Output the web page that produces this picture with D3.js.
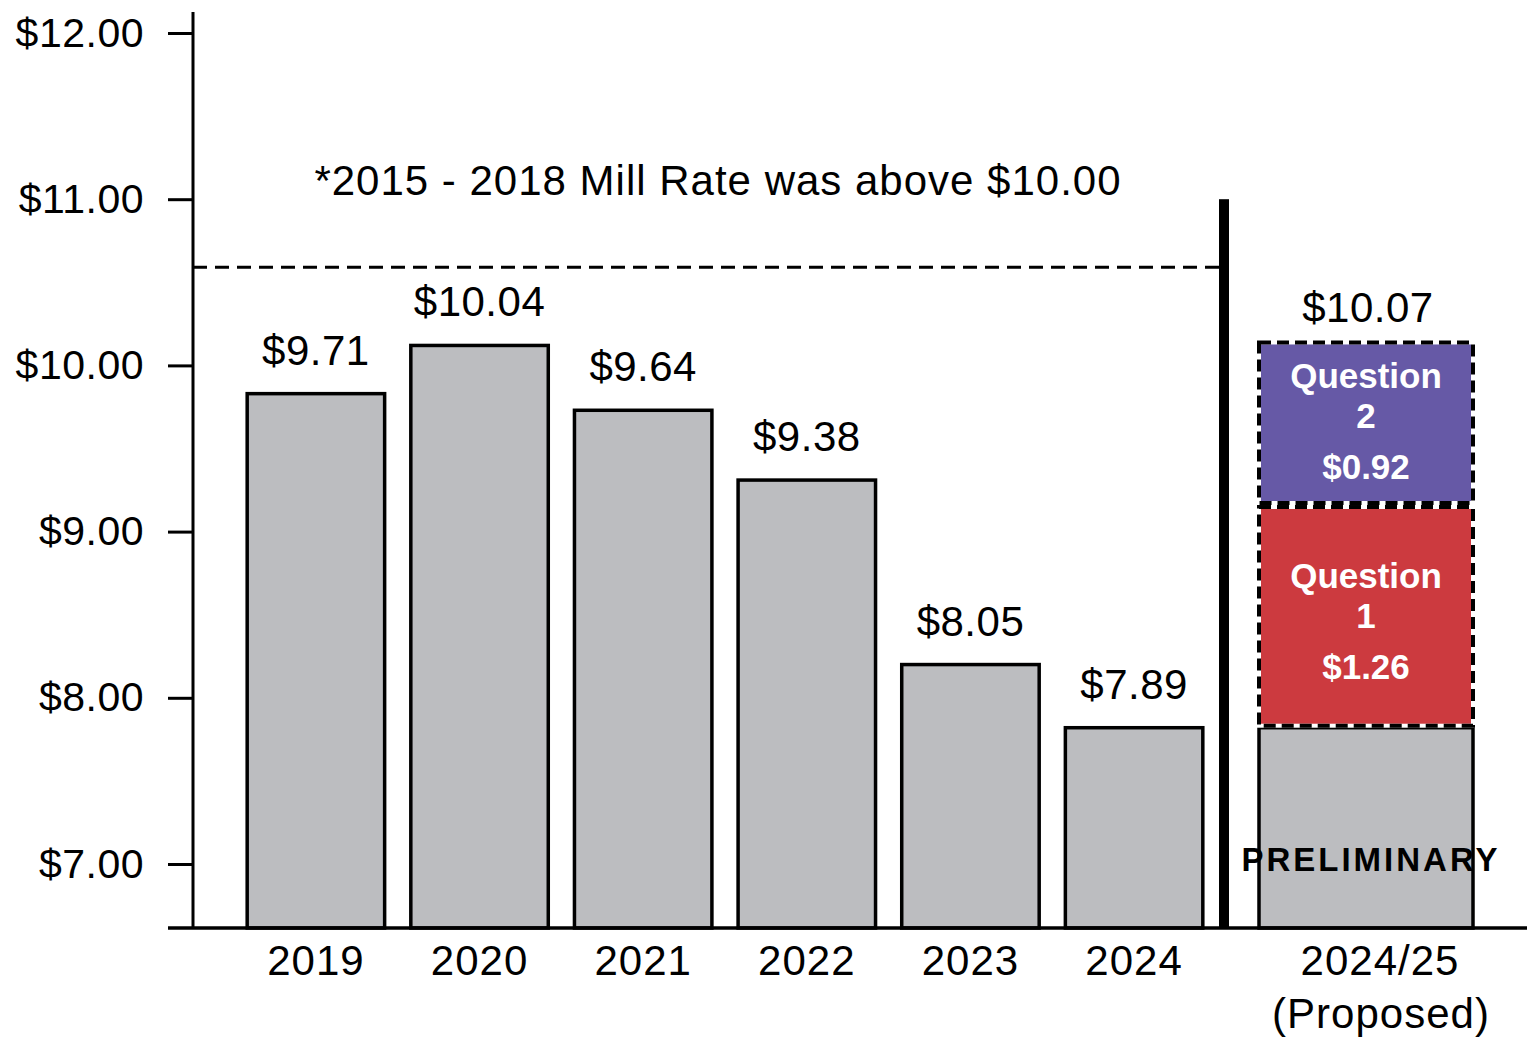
<!DOCTYPE html>
<html>
<head>
<meta charset="utf-8">
<script src="https://cdn.jsdelivr.net/npm/d3@7"></script>
<style>
  body { margin: 0; background: #fff; }
  text { font-family: "Liberation Sans", Arial, sans-serif; }
</style>
</head>
<body>
<script>
// Data
const years = ['2019', '2020', '2021', '2022', '2023', '2024']
const barHeights = [9.83, 10.12, 9.73, 9.31, 8.20, 7.82]
const barLabels = ['$9.71', '$10.04', '$9.64', '$9.38', '$8.05', '$7.89']

const proposedCategory = '2024/25'
const proposedBase = 7.82
const proposedQ1Top = 9.16
const proposedQ2Top = 10.15
const proposedLabel = '$10.07'
const questionNames = ['Question 1', 'Question 2']
const questionLabels = ['$1.26', '$0.92']

const yTicks = [7, 8, 9, 10, 11, 12]
const referenceLine = 10.59
const dividerTop = 11.0
const note = '*2015 - 2018 Mill Rate was above $10.00'

const colors = {
  bar: '#bcbdc0',
  q1: '#cc3a3f',
  q2: '#6659a6'
}

// Setup
const width = 1527
const height = 1038

const svg = d3.select('body')
  .append('svg')
  .attr('width', width)
  .attr('height', height)

const y = d3.scaleLinear().domain([7, 12]).range([864, 33])
const yBottom = y.invert(928)

const x = d3.scaleBand()
  .domain(years)
  .range([221, 1229])
  .padding(0.16)

const xProposed = d3.scaleBand()
  .domain([proposedCategory])
  .range([1259, 1473])

// Y axis
const yAxis = d3.axisLeft(y)
  .tickValues(yTicks)
  .tickSize(25)
  .tickPadding(24)
  .tickFormat(d => '$' + d3.format('.2f')(d))

const gy = svg.append('g')
  .attr('transform', 'translate(193,0)')
  .call(yAxis)
gy.select('.domain').remove()
gy.selectAll('.tick line').attr('stroke', '#000').attr('stroke-width', 3)
gy.selectAll('.tick text')
  .attr('fill', '#000')
  .style('font-size', '41px')
  .style('letter-spacing', '0.5px')
  .style('font-family', '"Liberation Sans", Arial, sans-serif')

svg.append('line')
  .attr('x1', 193).attr('x2', 193)
  .attr('y1', 12).attr('y2', 928)
  .attr('stroke', '#000').attr('stroke-width', 3)

// Reference line and note
svg.append('line')
  .attr('x1', 193).attr('x2', 1219)
  .attr('y1', y(referenceLine)).attr('y2', y(referenceLine))
  .attr('stroke', '#000')
  .attr('stroke-width', 3)
  .attr('stroke-dasharray', '14,8')

svg.append('text')
  .attr('x', 718)
  .attr('y', 195)
  .attr('text-anchor', 'middle')
  .style('font-size', '42px')
  .style('letter-spacing', '1px')
  .text(note)

// Bars
svg.append('g')
  .selectAll('rect')
  .data(years)
  .join('rect')
  .attr('x', d => x(d))
  .attr('y', (d, i) => y(barHeights[i]))
  .attr('width', x.bandwidth())
  .attr('height', (d, i) => y(yBottom) - y(barHeights[i]))
  .attr('fill', colors.bar)
  .attr('stroke', '#000')
  .attr('stroke-width', 3.5)

svg.append('g')
  .selectAll('text')
  .data(years)
  .join('text')
  .attr('x', d => x(d) + x.bandwidth() / 2)
  .attr('y', (d, i) => y(barHeights[i]) - 29)
  .attr('text-anchor', 'middle')
  .style('font-size', '42px')
  .style('letter-spacing', '0.5px')
  .text((d, i) => barLabels[i])

// Proposed stacked bar
const px = xProposed(proposedCategory)
const pw = xProposed.bandwidth()

svg.append('rect')
  .attr('x', px).attr('y', y(proposedBase))
  .attr('width', pw).attr('height', y(yBottom) - y(proposedBase))
  .attr('fill', colors.bar)
  .attr('stroke', '#000').attr('stroke-width', 3.5)

const segments = [
  { name: questionNames[0], label: questionLabels[0], from: proposedBase, to: proposedQ1Top, color: colors.q1, nudge: 0 },
  { name: questionNames[1], label: questionLabels[1], from: proposedQ1Top, to: proposedQ2Top, color: colors.q2, nudge: -7 }
]

segments.forEach(s => {
  svg.append('rect')
    .attr('x', px).attr('y', y(s.to) + 2)
    .attr('width', pw).attr('height', y(s.from) - y(s.to) - 4)
    .attr('fill', s.color)
    .attr('stroke', '#fff').attr('stroke-width', 4)
  svg.append('rect')
    .attr('x', px).attr('y', y(s.to) + 2)
    .attr('width', pw).attr('height', y(s.from) - y(s.to) - 4)
    .attr('fill', 'none')
    .attr('stroke', '#000').attr('stroke-width', 4)
    .attr('stroke-dasharray', '12,6')

  const mid = (y(s.to) + y(s.from)) / 2 + s.nudge
  const parts = s.name.split(' ')
  const cx = px + pw / 2
  const lines = [parts[0], parts[1], s.label]
  const offsets = [-28, 12, 63]
  lines.forEach((t, i) => {
    svg.append('text')
      .attr('x', cx)
      .attr('y', mid + offsets[i])
      .attr('text-anchor', 'middle')
      .attr('fill', '#fff')
      .style('font-size', '35px')
      .style('font-weight', 'bold')
      .text(t)
  })
})

svg.append('text')
  .attr('x', px + pw / 2 + 2)
  .attr('y', y(proposedQ2Top) - 18)
  .attr('text-anchor', 'middle')
  .style('font-size', '42px')
  .style('letter-spacing', '0.5px')
  .text(proposedLabel)

svg.append('text')
  .attr('x', px + pw / 2 + 5)
  .attr('y', 871)
  .attr('text-anchor', 'middle')
  .style('font-size', '33px')
  .style('font-weight', 'bold')
  .style('letter-spacing', '3px')
  .text('PRELIMINARY')

// Divider
svg.append('rect')
  .attr('x', 1219).attr('y', y(dividerTop))
  .attr('width', 10).attr('height', 928 - y(dividerTop))
  .attr('fill', '#000')

// X axis
svg.append('line')
  .attr('x1', 168).attr('x2', width)
  .attr('y1', 928).attr('y2', 928)
  .attr('stroke', '#000').attr('stroke-width', 3.5)

svg.append('g')
  .selectAll('text')
  .data(years)
  .join('text')
  .attr('x', d => x(d) + x.bandwidth() / 2)
  .attr('y', 975)
  .attr('text-anchor', 'middle')
  .style('font-size', '42px')
  .style('letter-spacing', '1px')
  .text(d => d)

svg.append('text')
  .attr('x', 1380).attr('y', 975)
  .attr('text-anchor', 'middle')
  .style('font-size', '42px')
  .style('letter-spacing', '1px')
  .text(proposedCategory)

svg.append('text')
  .attr('x', 1381).attr('y', 1028)
  .attr('text-anchor', 'middle')
  .style('font-size', '42px')
  .style('letter-spacing', '1px')
  .text('(Proposed)')
</script>
</body>
</html>
